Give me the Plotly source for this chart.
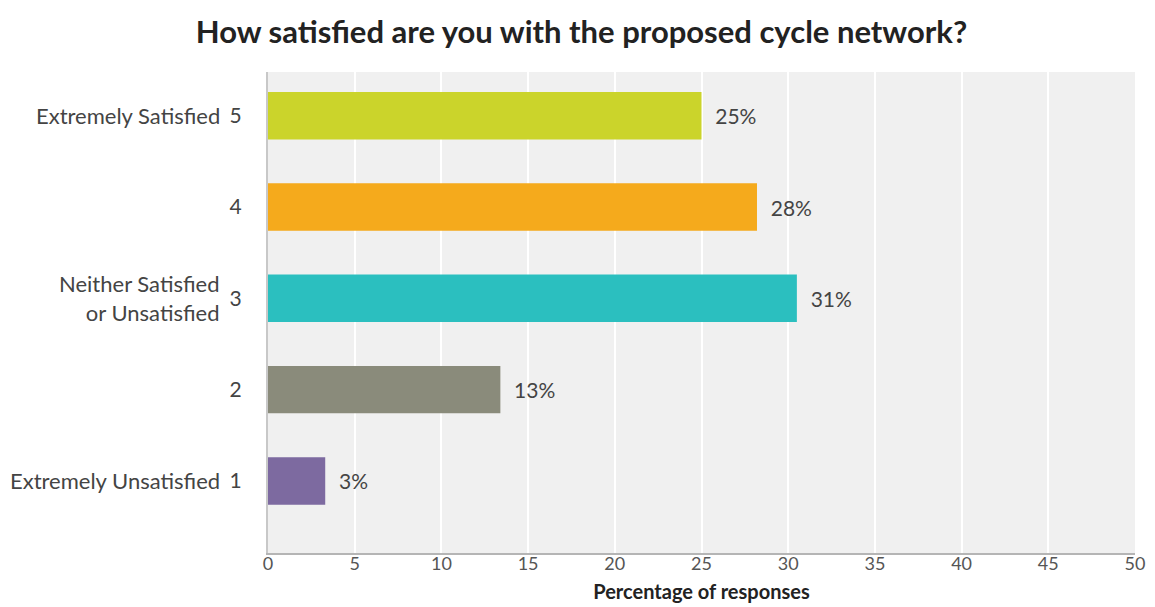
import plotly.graph_objects as go

ratings = [5, 4, 3, 2, 1]
rating_names = ["Extremely Satisfied", "", "Neither Satisfied<br>or Unsatisfied", "", "Extremely Unsatisfied"]
values = [25.0, 28.2, 30.5, 13.4, 3.3]
value_labels = ["25%", "28%", "31%", "13%", "3%"]
colors = ["#cbd42b", "#f5aa1c", "#2bbfbf", "#8a8b7b", "#7d6aa0"]
x_ticks = [0, 5, 10, 15, 20, 25, 30, 35, 40, 45, 50]

font_family = "Lato, Open Sans, sans-serif"

# page body has an 8px margin, so the figure is drawn 8px smaller and offsets shifted
W, H = 1147, 599

fig = go.Figure()
fig.add_trace(go.Bar(
    x=values, y=ratings, orientation="h",
    marker=dict(color=colors, line=dict(width=0)),
    width=0.52,
    text=value_labels, texttemplate="  %{text}", textposition="outside",
    textfont=dict(size=21, color="#444444", family=font_family),
    cliponaxis=False,
))

for r, name in zip(ratings, rating_names):
    if name:
        fig.add_annotation(
            x=0, xref="paper", y=r, yref="y", text=name, showarrow=False,
            xanchor="right", xshift=-46, align="right",
            font=dict(size=22, color="#444444", family=font_family),
        )

fig.update_layout(
    width=W, height=H,
    margin=dict(l=260, r=20, t=64, b=54, autoexpand=False),
    paper_bgcolor="white", plot_bgcolor="#f0f0f0",
    showlegend=False,
    title=dict(text="<b>How satisfied are you with the proposed cycle network?</b>",
               x=0.5, xanchor="center", y=1 - 24 / H, yanchor="middle", yref="container",
               font=dict(size=31, color="#222222", family=font_family), automargin=False),
    xaxis=dict(range=[0, 50], tickvals=x_ticks, showgrid=True, gridcolor="white", gridwidth=2,
               zeroline=False, showline=True, linecolor="#b5b5b5", linewidth=2,
               tickfont=dict(size=18, color="#555555", family=font_family), ticks="",
               automargin=False, ticklabelstandoff=-7,
               title=dict(text="<b>Percentage of responses</b>", standoff=12,
                          font=dict(size=20, color="#222222", family=font_family))),
    yaxis=dict(range=[0.21, 5.48], tickvals=ratings, ticktext=[str(r) for r in ratings],
               showgrid=False, zeroline=False, showline=True, linecolor="#c8c8c8", linewidth=2,
               tickfont=dict(size=21, color="#444444", family=font_family), ticks="",
               automargin=False, ticklabelstandoff=20),
    bargap=0.48,
)

fig.write_html("out.html")
